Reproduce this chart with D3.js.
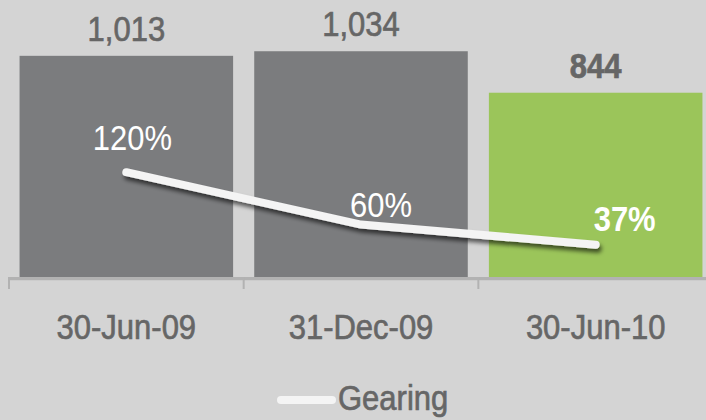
<!DOCTYPE html>
<html>
<head>
<meta charset="utf-8">
<script src="https://cdn.jsdelivr.net/npm/d3@7/dist/d3.min.js"></script>
<style>
  html, body { margin: 0; padding: 0; background: #d4d4d4; }
  svg { display: block; }
  text { font-family: "Liberation Sans", Arial, sans-serif; }
</style>
</head>
<body>
<svg id="chart" width="706" height="420"></svg>
<script>
// Period-end dates shown along the x axis
const periods = ["30-Jun-09", "31-Dec-09", "30-Jun-10"];
// Net debt (bars) and gearing ratio (line)
const netDebt = [1013, 1034, 844];
const gearing = [1.20, 0.60, 0.37];
const debtLabels = ["1,013", "1,034", "844"];
const gearingLabels = ["120%", "60%", "37%"];
const seriesName = "Gearing";

const W = 706, H = 420;
const baseY = 277;
const svg = d3.select("#chart");

svg.append("rect").attr("width", W).attr("height", H).attr("fill", "#d4d4d4");

const defs = svg.append("defs");
const shadow = defs.append("filter").attr("id", "lineShadow")
  .attr("x", "-10%").attr("y", "-50%").attr("width", "120%").attr("height", "200%");
shadow.append("feDropShadow")
  .attr("dx", 2).attr("dy", 4).attr("stdDeviation", 2.2)
  .attr("flood-color", "#000").attr("flood-opacity", 0.6);

const x = d3.scaleBand().domain(periods).range([9, 713])
  .paddingInner(0.09).paddingOuter(0.045);
const y = d3.scaleLinear().domain([0, 1200]).range([baseY, 15]);
const y2 = d3.scaleLinear().domain([0, 3]).range([baseY, 15]);

const textGray = "#666666";
const fs = 31, stretch = 1.12;

function label(g, px, py, txt, opts) {
  const t = g.append("text")
    .attr("transform", `translate(${px},${py}) scale(1,${stretch})`)
    .attr("text-anchor", opts.anchor || "middle")
    .attr("font-size", opts.size || fs)
    .attr("font-weight", opts.bold ? "bold" : "normal")
    .attr("fill", opts.color)
    .text(txt);
  if (opts.heavy) {
    t.attr("stroke", opts.color).attr("stroke-width", 0.6);
  }
}

// Bars: the latest period highlighted in green
svg.append("g").selectAll("rect")
  .data(periods)
  .join("rect")
  .attr("x", d => x(d))
  .attr("y", (d, i) => y(netDebt[i]))
  .attr("width", x.bandwidth())
  .attr("height", (d, i) => baseY - y(netDebt[i]))
  .attr("fill", (d, i) => i === periods.length - 1 ? "#9bc55a" : "#7b7c7e");

// Category axis: baseline plus boundary ticks between categories
const axisG = svg.append("g");
axisG.append("line")
  .attr("x1", 9).attr("x2", W).attr("y1", baseY + 1.6).attr("y2", baseY + 1.6)
  .attr("stroke", "#b2b2b2").attr("stroke-width", 3.2);
const step = x.step();
const boundaries = d3.range(periods.length).map(i => x(periods[i]) - x.paddingOuter() * step);
axisG.selectAll("line.tick")
  .data(boundaries)
  .join("line")
  .attr("class", "tick")
  .attr("x1", d => d).attr("x2", d => d)
  .attr("y1", baseY).attr("y2", baseY + 12)
  .attr("stroke", "#b2b2b2").attr("stroke-width", 2);

const xAxis = d3.axisBottom(x).tickSize(0).tickPadding(0);
const axisLabels = svg.append("g").attr("transform", `translate(0,${baseY})`).call(xAxis);
axisLabels.select(".domain").remove();
axisLabels.selectAll(".tick text").remove();
axisLabels.selectAll(".tick").each(function(d) {
  label(d3.select(this), 0, 62, d, { color: textGray, heavy: true });
});

// Net debt value labels above the bars
const valG = svg.append("g");
periods.forEach((p, i) => {
  label(valG, x(p) + x.bandwidth() / 2, y(netDebt[i]) - 15, debtLabels[i],
    { color: textGray, bold: i === periods.length - 1, heavy: true });
});

// Gearing line with drop shadow
const line = d3.line()
  .x((d, i) => x(periods[i]) + x.bandwidth() / 2)
  .y(d => y2(d));
svg.append("path")
  .datum(gearing)
  .attr("d", line)
  .attr("fill", "none")
  .attr("stroke", "#f4f4f4")
  .attr("stroke-width", 8)
  .attr("stroke-linecap", "round")
  .attr("stroke-linejoin", "round")
  .attr("filter", "url(#lineShadow)");

// Gearing labels, nudged clear of the line
const pctOffsets = [[6, -22], [20, -8], [29, -14]];
const pctG = svg.append("g");
gearing.forEach((v, i) => {
  const cx = x(periods[i]) + x.bandwidth() / 2;
  label(pctG, cx + pctOffsets[i][0], y2(v) + pctOffsets[i][1], gearingLabels[i],
    { color: "#ffffff", bold: i === gearing.length - 1 });
});

// Legend
const leg = svg.append("g");
leg.append("line")
  .attr("x1", 281).attr("x2", 332).attr("y1", 400).attr("y2", 400)
  .attr("stroke", "#f4f4f4").attr("stroke-width", 8).attr("stroke-linecap", "round");
label(leg, 338, 410, seriesName, { color: textGray, anchor: "start", heavy: true });
</script>
</body>
</html>
